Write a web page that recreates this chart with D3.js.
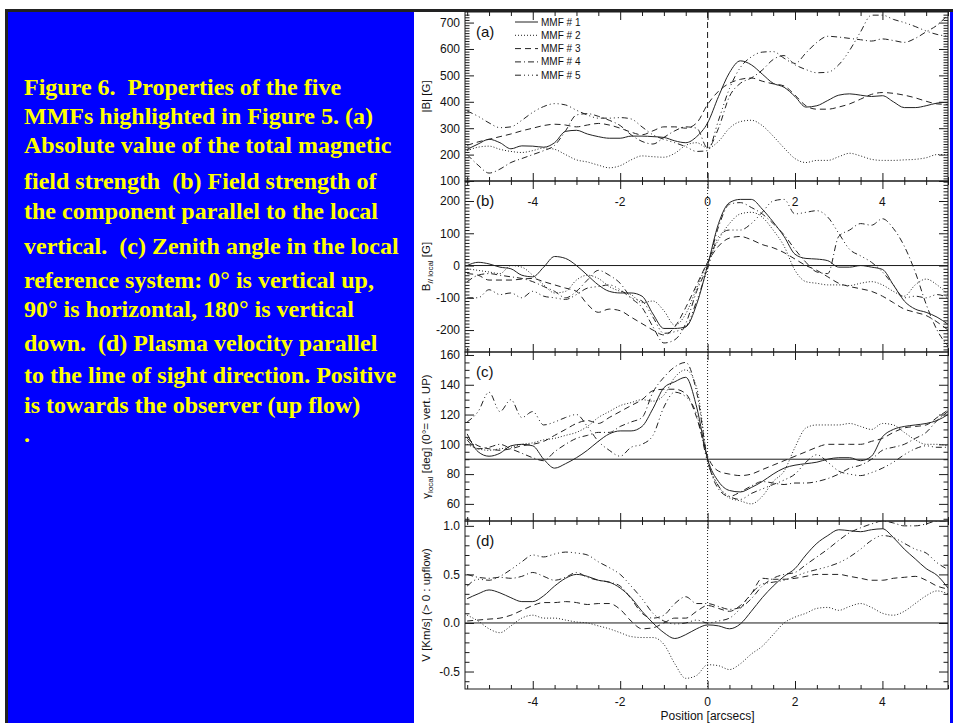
<!DOCTYPE html>
<html>
<head>
<meta charset="utf-8">
<script src="https://cdn.jsdelivr.net/npm/d3@7"></script>
<style>
  html, body { margin: 0; padding: 0; background: #fff; }
  svg { display: block; }
</style>
</head>
<body>
<svg id="fig" width="953" height="723"></svg>
<script>
/* ---------- data ---------- */
const seriesNames = ['MMF # 1', 'MMF # 2', 'MMF # 3', 'MMF # 4', 'MMF # 5'];

// positions along the cut [arcsec]
const positions = [-5.5, -5.25, -5, -4.75, -4.5, -4.25, -4, -3.75, -3.5, -3.25, -3, -2.75, -2.5, -2.25, -2,
  -1.75, -1.5, -1.25, -1, -0.75, -0.5, -0.25, 0, 0.25, 0.5, 0.75, 1, 1.25, 1.5, 1.75, 2, 2.25, 2.5, 2.75,
  3, 3.25, 3.5, 3.75, 4, 4.25, 4.5, 4.75, 5, 5.25, 5.5];

// (a) |B| [G]
const absB = [
  [220, 240, 258, 245, 222, 233, 232, 228, 245, 288, 292, 278, 268, 262, 262, 270, 270, 268, 265, 252, 245, 268, 320, 420, 510, 555, 540, 505, 470, 455, 420, 380, 385, 405, 425, 430, 425, 420, 423, 400, 378, 378, 385, 395, 398],
  [215, 228, 232, 220, 212, 208, 215, 225, 220, 200, 180, 172, 160, 150, 158, 180, 195, 192, 190, 205, 235, 245, 225, 250, 300, 325, 330, 310, 270, 225, 185, 170, 178, 178, 192, 205, 195, 182, 178, 178, 180, 182, 188, 200, 200],
  [235, 248, 258, 268, 278, 290, 300, 310, 315, 312, 305, 312, 318, 312, 300, 285, 275, 290, 305, 305, 300, 320, 390, 440, 470, 485, 490, 478, 468, 460, 425, 385, 372, 372, 380, 392, 410, 428, 435, 432, 425, 415, 402, 392, 390],
  [200, 160, 130, 145, 170, 185, 200, 215, 235, 290, 350, 355, 345, 330, 310, 275, 250, 240, 265, 290, 305, 300, 225, 300, 420, 470, 490, 520, 560, 575, 545, 585, 625, 648, 645, 640, 635, 630, 638, 632, 625, 640, 665, 690, 730],
  [365, 345, 320, 302, 305, 330, 360, 382, 393, 388, 368, 350, 338, 338, 340, 335, 305, 275, 258, 245, 230, 212, 215, 330, 450, 530, 570, 588, 590, 565, 540, 522, 510, 512, 540, 595, 665, 728, 728, 712, 700, 685, 668, 655, 648]
];

// (b) B parallel to local vertical [G]
const bLocal = [
  [0, 10, 5, -5, -10, -30, -35, -5, 28, 22, 0, -30, -60, -80, -85, -85, -95, -150, -195, -195, -190, -120, 0, 130, 195, 205, 205, 175, 135, 90, 35, 22, 20, 15, -5, -5, 0, -5, -12, -60, -110, -135, -145, -160, -182],
  [-10, -15, -20, -25, 0, -5, -30, -60, -85, -80, -45, -30, -40, -65, -80, -90, -115, -110, -140, -185, -150, -70, 10, 80, 130, 160, 165, 150, 110, 60, -15, -50, -55, -60, -60, -62, -55, -50, -60, -80, -95, -60, -42, -60, -90],
  [-25, -30, -45, -45, -45, -42, -40, -50, -60, -70, -80, -120, -145, -135, -140, -160, -180, -200, -215, -190, -130, -60, 10, 60, 85, 90, 80, 65, 55, 40, 20, 0, -15, -35, -55, -65, -72, -80, -95, -115, -135, -145, -155, -175, -200],
  [-50, -30, -25, -30, -35, -40, -50, -65, -80, -100, -80, -45, -15, -30, -55, -100, -130, -190, -240, -230, -180, -80, 0, 120, 190, 195, 180, 160, 130, 95, 50, 10, -20, -25, 90, 110, 130, 125, 145, 115, 60, -20, -120, -200, -250],
  [-100, -100, -75, -90, -85, -100, -80, -95, -100, -105, -90, -70, -65, -60, -75, -100, -110, -160, -210, -205, -190, -110, -10, 90, 110, 110, 130, 165, 200, 205, 160, 165, 170, 150, 100, 50, 30, 10, -20, -60, -100, -95, -100, -90, -100]
];

// (c) zenith angle gamma_local [deg]
const gammaLocal = [
  [107, 95, 92, 94, 99, 100, 99, 90, 84, 87, 91, 96, 102, 107, 109, 109, 112, 124, 138, 142, 145, 125, 90, 75, 69, 68, 71, 75, 80, 84, 86, 87, 88, 90, 91, 91, 89, 92, 105, 110, 112, 113, 114, 116, 120],
  [100, 97, 96, 97, 98, 100, 101, 103, 104, 106, 108, 112, 118, 122, 126, 128, 130, 129, 133, 145, 150, 138, 90, 72, 64, 62, 60, 65, 75, 82, 98, 111, 113, 113, 113, 114, 112, 110, 114, 113, 108, 103, 100, 100, 99],
  [104, 99, 97, 96, 97, 99, 100, 102, 106, 110, 114, 116, 114, 118, 122, 126, 130, 136, 137, 137, 134, 118, 92, 82, 80, 79, 80, 83, 86, 89, 92, 95, 98, 100, 100, 100, 100, 102, 104, 108, 111, 112, 113, 118, 123],
  [103, 97, 98, 100, 97, 94, 91, 89, 95, 100, 104, 106, 108, 108, 112, 115, 118, 135, 145, 152, 155, 135, 90, 70, 65, 68, 72, 75, 74, 73, 74, 74, 75, 77, 80, 84, 86, 90, 96, 98, 100, 104, 108, 116, 122],
  [115, 122, 135, 122, 130, 118, 122, 113, 115, 118, 120, 112, 102, 96, 92, 98, 100, 106, 125, 135, 132, 120, 88, 72, 65, 63, 67, 70, 73, 76, 80, 88, 93, 88, 82, 80, 79, 81, 84, 88, 93, 97, 99, 98, 98]
];

// (d) line-of-sight velocity [km/s]
const vLos = [
  [0.25, 0.3, 0.34, 0.31, 0.26, 0.22, 0.22, 0.28, 0.38, 0.46, 0.5, 0.48, 0.44, 0.42, 0.36, 0.26, 0.12, 0.0, -0.1, -0.16, -0.12, -0.06, -0.02, -0.03, -0.06, -0.01, 0.12, 0.26, 0.38, 0.48, 0.56, 0.7, 0.82, 0.9, 0.96, 0.95, 0.94, 0.96, 0.97, 0.88, 0.76, 0.66, 0.56, 0.49, 0.36],
  [0.08, 0.02, -0.06, -0.1, -0.03, 0.05, 0.08, 0.05, 0.05, 0.03, 0.01, 0.0, -0.03, -0.06, -0.1, -0.14, -0.15, -0.15, -0.22, -0.42, -0.57, -0.54, -0.43, -0.44, -0.48, -0.42, -0.32, -0.24, -0.12, 0.0, 0.06, 0.1, 0.15, 0.16, 0.13, 0.17, 0.2, 0.16, 0.1, 0.08, 0.12, 0.2, 0.28, 0.33, 0.3],
  [0.02, 0.03, 0.04, 0.05, 0.08, 0.13, 0.18, 0.21, 0.21, 0.22, 0.21, 0.19, 0.2, 0.2, 0.14, 0.02, -0.06, -0.05, 0.0, 0.05, 0.05, 0.12, 0.18, 0.15, 0.12, 0.18, 0.3, 0.46, 0.45, 0.45, 0.46, 0.48, 0.5, 0.5, 0.5, 0.48, 0.46, 0.44, 0.44, 0.46, 0.47, 0.48, 0.44, 0.38, 0.35],
  [0.5, 0.47, 0.46, 0.47, 0.46, 0.48, 0.52, 0.48, 0.44, 0.47, 0.52, 0.47, 0.44, 0.42, 0.38, 0.25, 0.1, 0.05, 0.08, 0.2, 0.27, 0.2, 0.2, 0.17, 0.14, 0.16, 0.25, 0.38, 0.46, 0.5, 0.52, 0.6, 0.68, 0.76, 0.85, 0.93, 0.98, 1.02, 1.05, 1.03, 1.0, 1.0, 1.02, 1.05, 1.05],
  [0.38, 0.45, 0.44, 0.48, 0.55, 0.63, 0.7, 0.68, 0.71, 0.73, 0.72, 0.7, 0.63, 0.57, 0.5, 0.38, 0.25, 0.1, 0.02, -0.01, 0.0, 0.03, 0.0, 0.02, 0.05, 0.15, 0.3, 0.4, 0.42, 0.44, 0.48, 0.52, 0.55, 0.58, 0.62, 0.68, 0.76, 0.85, 0.9, 0.88, 0.82, 0.76, 0.72, 0.62, 0.55]
];

// tick labels
const xTicks = [-4, -2, 0, 2, 4];
const absBTicks = [100, 200, 300, 400, 500, 600, 700];
const bLocalTicks = [-200, -100, 0, 100, 200];
const gammaTicks = [60, 80, 100, 120, 140, 160];
const vTicks = [-0.5, 0.0, 0.5, 1.0];

const caption = [
  'Figure 6.  Properties of the five',
  'MMFs highlighted in Figure 5. (a)',
  'Absolute value of the total magnetic',
  'field strength  (b) Field strength of',
  'the component parallel to the local',
  'vertical.  (c) Zenith angle in the local',
  'reference system: 0\u00B0 is vertical up,',
  '90\u00B0 is horizontal, 180\u00B0 is vertical',
  'down.  (d) Plasma velocity parallel',
  'to the line of sight direction. Positive',
  'is towards the observer (up flow)',
  '.'
];

/* ---------- layout ---------- */
const svg = d3.select('#fig');
const INK = '#1a1a1a';
const FONT = '"Liberation Sans", Arial, Helvetica, sans-serif';
const dashes = [null, '1,2', '6,4', '6,3,1,3', '6,3,1,3,1,3,1,3'];

// page frame: dark rule, blue caption box, blue right strip
svg.append('rect').attr('x', 5).attr('y', 9).attr('width', 948).attr('height', 714).attr('fill', '#222');
svg.append('rect').attr('x', 8).attr('y', 12).attr('width', 945).attr('height', 711).attr('fill', '#fff');
svg.append('rect').attr('x', 8).attr('y', 12).attr('width', 406).attr('height', 711).attr('fill', '#0000ff');
svg.append('rect').attr('x', 950).attr('y', 12).attr('width', 3).attr('height', 711).attr('fill', '#0000ff');

const captionBaselines = [95, 124, 153, 189, 219, 254, 288, 317, 351, 383, 413, 442];
svg.append('g')
  .selectAll('text')
  .data(caption)
  .join('text')
  .attr('x', 24)
  .attr('y', (d, i) => captionBaselines[i])
  .attr('fill', '#ffff00')
  .attr('font-family', '"Liberation Serif", "Times New Roman", serif')
  .attr('font-weight', 'bold')
  .attr('font-size', 24)
  .style('white-space', 'pre')
  .text(d => d);

/* ---------- panels ---------- */
const X0 = 465, X1 = 948;
const x = d3.scaleLinear().domain([-5.55, 5.5]).range([X0, X1]);

const fmtInt = d => String(d);
const fmtOne = d => d.toFixed(1);

const panels = [
  { id: 'a', data: absB, top: 12, bottom: 181, domain: [100, 740], ticks: absBTicks, minor: 10, fmt: fmtInt,
    zeroDash: '6,4', hline: null, title: 'abs' },
  { id: 'b', data: bLocal, top: 181, bottom: 352, domain: [-268, 262], ticks: bLocalTicks, minor: 10, fmt: fmtInt,
    zeroDash: '1,2', hline: 0, title: 'blocal' },
  { id: 'c', data: gammaLocal, top: 352, bottom: 521, domain: [48.5, 162], ticks: gammaTicks, minor: 5, fmt: fmtInt,
    zeroDash: '1,2', hline: 90, title: 'gamma' },
  { id: 'd', data: vLos, top: 521, bottom: 689, domain: [-0.68, 1.05], ticks: vTicks, minor: 0.1, fmt: fmtOne,
    zeroDash: '1,2', hline: 0, title: 'v' }
];

const xMinor = d3.range(-5.5, 5.51, 0.5).filter(v => !xTicks.includes(v));

panels.forEach(p => {
  const y = d3.scaleLinear().domain(p.domain).range([p.bottom, p.top]);
  const g = svg.append('g').attr('class', 'panel-' + p.id);
  const H = p.bottom - p.top;

  g.append('clipPath').attr('id', 'clip-' + p.id)
    .append('rect').attr('x', X0).attr('y', p.top).attr('width', X1 - X0).attr('height', H);

  const lo = Math.ceil(p.domain[0] / p.minor) * p.minor;
  const yMinor = d3.range(lo, p.domain[1], p.minor)
    .map(v => +v.toFixed(3))
    .filter(v => !p.ticks.some(t => Math.abs(t - v) < 1e-6));

  // y axes, ticks inward
  const left = g.append('g').attr('transform', `translate(${X0},0)`)
    .call(d3.axisLeft(y).tickValues(p.ticks).tickSize(-9).tickPadding(13).tickFormat(p.fmt));
  left.append('g').call(d3.axisLeft(y).tickValues(yMinor).tickSize(-4.5).tickFormat(''));
  const right = g.append('g').attr('transform', `translate(${X1},0)`)
    .call(d3.axisRight(y).tickValues(p.ticks).tickSize(-9).tickFormat(''));
  right.append('g').call(d3.axisRight(y).tickValues(yMinor).tickSize(-4.5).tickFormat(''));

  // x axes, ticks inward
  const top = g.append('g').attr('transform', `translate(0,${p.top})`)
    .call(d3.axisTop(x).tickValues(xTicks).tickSize(-8).tickFormat(''));
  top.append('g').call(d3.axisTop(x).tickValues(xMinor).tickSize(-4).tickFormat(''));
  const bot = g.append('g').attr('transform', `translate(0,${p.bottom})`)
    .call(d3.axisBottom(x).tickValues(xTicks).tickSize(-8).tickFormat(''));
  bot.append('g').call(d3.axisBottom(x).tickValues(xMinor).tickSize(-4).tickFormat(''));

  g.selectAll('.domain').remove();
  g.selectAll('.tick line').attr('stroke', INK);
  g.selectAll('.tick text')
    .attr('font-family', FONT).attr('font-size', 12).attr('fill', '#111')
    .attr('x', -5);

  // frame
  g.append('rect').attr('x', X0).attr('y', p.top).attr('width', X1 - X0).attr('height', H)
    .attr('fill', 'none').attr('stroke', INK).attr('stroke-width', 1);

  // reference lines
  g.append('line').attr('x1', x(0)).attr('x2', x(0)).attr('y1', p.top).attr('y2', p.bottom)
    .attr('stroke', INK).attr('stroke-width', 1).attr('stroke-dasharray', p.zeroDash);
  if (p.hline !== null) {
    g.append('line').attr('x1', X0).attr('x2', X1).attr('y1', y(p.hline)).attr('y2', y(p.hline))
      .attr('stroke', INK).attr('stroke-width', 1);
  }

  // curves
  const line = d3.line()
    .x((d, i) => x(positions[i]))
    .y(d => y(d))
    .curve(d3.curveMonotoneX);

  g.append('g').attr('clip-path', `url(#clip-${p.id})`)
    .selectAll('path')
    .data(p.data)
    .join('path')
    .attr('d', line)
    .attr('fill', 'none')
    .attr('stroke', '#222')
    .attr('stroke-width', 1)
    .attr('stroke-dasharray', (d, i) => dashes[i]);

  // panel letter
  g.append('text').attr('x', 476).attr('y', p.top + 25)
    .attr('font-family', FONT).attr('font-size', 15).attr('fill', '#111')
    .text(`(${p.id})`);

  // y title
  const t = g.append('text')
    .attr('transform', `translate(430,${(p.top + p.bottom) / 2}) rotate(-90)`)
    .attr('text-anchor', 'middle')
    .attr('font-family', FONT).attr('font-size', 11.5).attr('fill', '#111');
  if (p.title === 'abs') {
    t.text('|B| [G]');
  } else if (p.title === 'blocal') {
    t.append('tspan').text('B');
    t.append('tspan').attr('dy', 3).attr('font-size', 8).text('// local');
    t.append('tspan').attr('dy', -3).text(' [G]');
  } else if (p.title === 'gamma') {
    t.append('tspan').text('\u03B3');
    t.append('tspan').attr('dy', 3).attr('font-size', 8).text('local');
    t.append('tspan').attr('dy', -3).text(' [deg] (0\u00B0= vert. UP)');
  } else {
    t.text('V [Km/s] (> 0 : upflow)');
  }
});

// x tick labels: under panel (a) (showing through panel b) and under panel (d)
[206, 706].forEach(yy => {
  svg.append('g').selectAll('text')
    .data(xTicks)
    .join('text')
    .attr('x', d => x(d))
    .attr('y', yy)
    .attr('text-anchor', 'middle')
    .attr('font-family', FONT).attr('font-size', 12).attr('fill', '#111')
    .text(d => String(d));
});

svg.append('text')
  .attr('x', x(0)).attr('y', 720)
  .attr('text-anchor', 'middle')
  .attr('font-family', FONT).attr('font-size', 12).attr('fill', '#111')
  .text('Position [arcsecs]');

// legend in panel (a)
const legend = svg.append('g');
seriesNames.forEach((name, i) => {
  const ly = 22 + i * 13.3;
  legend.append('line').attr('x1', 515).attr('x2', 538).attr('y1', ly).attr('y2', ly)
    .attr('stroke', '#222').attr('stroke-width', 1).attr('stroke-dasharray', dashes[i]);
  legend.append('text').attr('x', 541).attr('y', ly + 3.5)
    .attr('font-family', FONT).attr('font-size', 10).attr('fill', '#111')
    .text(name);
});
</script>
</body>
</html>
